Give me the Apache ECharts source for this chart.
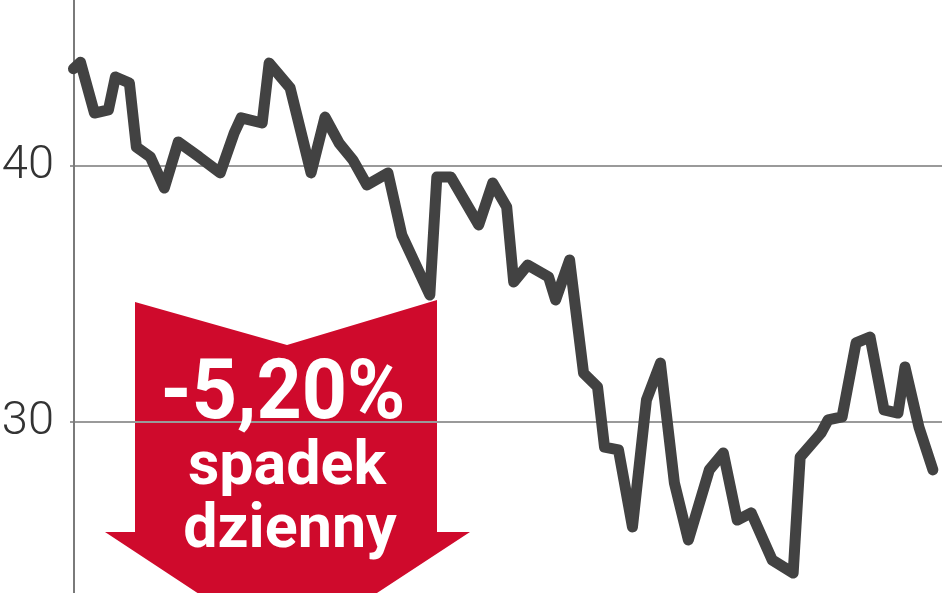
<!DOCTYPE html>
<html>
<head>
<meta charset="utf-8">
<script src="https://cdn.jsdelivr.net/npm/echarts@6/dist/echarts.min.js"></script>
<style>
html,body{margin:0;padding:0;background:#fff;}
#chart{width:948px;height:593px;}
</style>
</head>
<body>
<div id="chart"></div>
<script>
// trading-day index and closing price
var days = [0,1,3,5,6,8,9,11,13,15,18,21,23,24,27,28,31,34,36,38,40,42,45,47,51,52,54,58,60,62,63,65,68,69,71,73,75,76,78,80,82,84,86,88,91,93,95,97,100,103,104,107,108,110,112,114,116,118,119,121,123];
var prices = [43.8,44.05,42.07,42.19,43.48,43.24,40.74,40.35,39.14,40.94,40.35,39.73,41.29,41.88,41.68,44.02,43.05,39.73,41.91,40.90,40.23,39.26,39.73,37.30,34.96,39.57,39.57,37.70,39.34,38.40,35.47,36.13,35.66,34.77,36.33,31.91,31.37,29.02,28.91,25.90,30.86,32.30,27.62,25.39,28.13,28.79,26.17,26.45,24.61,24.10,28.63,29.57,30.08,30.20,33.09,33.32,30.47,30.35,32.15,29.80,28.13];
var yTicks = [20, 30, 40, 50];
var badgeLines = ['-5,20%', 'spadek', 'dzienny'];

var chart = echarts.init(document.getElementById('chart'), null, {renderer: 'canvas'});
var seriesData = days.map(function (d, i) { return [d, prices[i]]; });

chart.setOption({
  animation: false,
  backgroundColor: '#ffffff',
  grid: {left: 70, right: 6, top: -90, bottom: -85, containLabel: false, outerBoundsMode: 'none'},
  xAxis: {
    type: 'value', min: -0.5, max: 124.3,
    show: false
  },
  yAxis: {
    type: 'value', min: yTicks[0], max: yTicks[yTicks.length - 1], interval: 10,
    axisLine: {show: true, lineStyle: {color: '#7a7a7a', width: 2}},
    axisTick: {show: false},
    splitLine: {show: true, lineStyle: {color: '#9a9a9a', width: 2}},
    axisLabel: {
      show: true, margin: 16, color: '#333333',
      fontFamily: 'Roboto', fontWeight: 300, fontSize: 47,
      verticalAlign: 'middle'
    }
  },
  graphic: [
    {
      type: 'polygon', z: 0,
      shape: {points: [[135,302],[287,345],[437,300],[437,532],[470,532],[287,652],[105,532],[135,532]]},
      style: {fill: '#cf0a2c'}
    },
    {
      type: 'text', z: 1, x: 283, y: 397, scaleX: 1, scaleY: 1.06,
      style: {text: badgeLines[0], fill: '#ffffff', font: 'bold 79px Roboto', align: 'center', verticalAlign: 'middle'}
    },
    {
      type: 'text', z: 1, x: 287, y: 469,
      style: {text: badgeLines[1], fill: '#ffffff', font: 'bold 61px Roboto', align: 'center', verticalAlign: 'middle'}
    },
    {
      type: 'text', z: 1, x: 290, y: 532,
      style: {text: badgeLines[2], fill: '#ffffff', font: 'bold 61px Roboto', align: 'center', verticalAlign: 'middle'}
    }
  ],
  series: [{
    type: 'line', z: 10,
    data: seriesData,
    showSymbol: false,
    symbol: 'none',
    lineStyle: {color: '#424242', width: 11, join: 'round', cap: 'round'},
    clip: true
  }]
});
</script>
</body>
</html>
